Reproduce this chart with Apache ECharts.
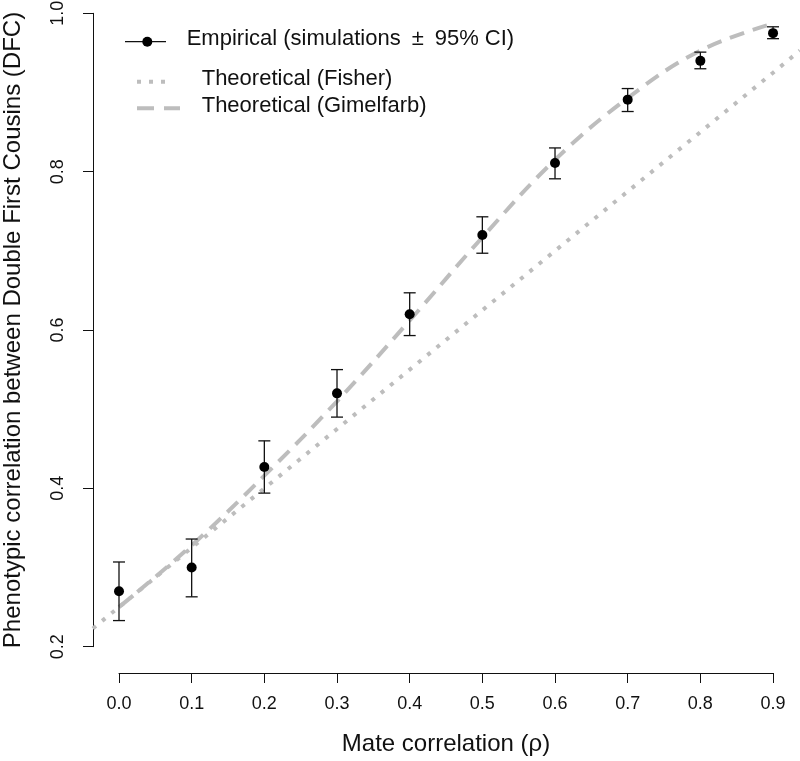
<!DOCTYPE html>
<html>
<head>
<meta charset="utf-8">
<script src="https://cdn.jsdelivr.net/npm/echarts@6/dist/echarts.min.js"></script>
<style>
  html, body { margin: 0; padding: 0; background: #fff; }
  #chart { width: 800px; height: 761px; }
</style>
</head>
<body>
<div id="chart"></div>
<script>
// mate correlation values for the simulations
const rho = [0.0, 0.1, 0.2, 0.3, 0.4, 0.5, 0.6, 0.7, 0.8, 0.9];
const empirical = [0.270, 0.300, 0.427, 0.520, 0.620, 0.720, 0.811, 0.891, 0.940, 0.975];
const ciLow = [0.233, 0.263, 0.394, 0.490, 0.593, 0.697, 0.791, 0.876, 0.930, 0.968];
const ciHigh = [0.307, 0.336, 0.460, 0.550, 0.647, 0.743, 0.830, 0.905, 0.951, 0.983];

// theoretical curves
const fisherX = [-0.036, 0.0, 0.1, 0.2, 0.3, 0.4, 0.5, 0.6, 0.7, 0.8, 0.9, 0.937];
const fisherY = [0.223, 0.250, 0.325, 0.400, 0.475, 0.550, 0.625, 0.700, 0.775, 0.850, 0.925, 0.953];
const gimelX = [0.0, 0.1, 0.2, 0.3, 0.4, 0.5, 0.6, 0.7, 0.8, 0.9];
const gimelY = [0.250, 0.328, 0.416, 0.510, 0.612, 0.717, 0.815, 0.893, 0.953, 0.987];

const xTicks = ["0.0", "0.1", "0.2", "0.3", "0.4", "0.5", "0.6", "0.7", "0.8", "0.9"];
const yTicks = ["0.2", "0.4", "0.6", "0.8", "1.0"];

const FONT = "'Liberation Sans', Arial, Helvetica, sans-serif";
const GREY = "#bdbdbd";
const INK = "#111";

const chart = echarts.init(document.getElementById("chart"), null, { renderer: "canvas" });

const zip = (xs, ys) => xs.map((x, i) => [x, ys[i]]);

const option = {
  backgroundColor: "#fff",
  animation: false,
  grid: [
    // plotting region (R extends the data range by 4%)
    { left: 93, top: 0, width: 707, height: 673, outerBoundsMode: "none" },
    // x axis, drawn only over the tick range
    { left: 119, top: 0, width: 654, height: 673, outerBoundsMode: "none" },
    // y axis, drawn only over the tick range
    { left: 93, top: 13.3, width: 707, height: 633.4, outerBoundsMode: "none" },
  ],
  xAxis: [
    { gridIndex: 0, type: "value", min: -0.03578, max: 0.93712, show: false },
    {
      gridIndex: 1, type: "value", min: 0, max: 0.9, interval: 0.1,
      axisLine: { show: true, lineStyle: { color: INK, width: 1 } },
      axisTick: { show: true, inside: false, length: 10, lineStyle: { color: INK, width: 1 } },
      axisLabel: {
        color: INK, fontSize: 18, fontFamily: FONT, margin: 22,
        formatter: (v) => xTicks[Math.round(v * 10)] ?? "",
      },
      splitLine: { show: false },
      name: "Mate correlation (\u03c1)",
      nameLocation: "middle",
      nameGap: 59,
      nameTextStyle: { color: INK, fontSize: 24, fontFamily: FONT },
    },
    { gridIndex: 2, type: "value", min: 0, max: 1, show: false },
  ],
  yAxis: [
    { gridIndex: 0, type: "value", min: 0.16678, max: 1.01685, show: false },
    { gridIndex: 1, type: "value", min: 0, max: 1, show: false },
    {
      gridIndex: 2, type: "value", min: 0.2, max: 1.0, interval: 0.2,
      axisLine: { show: true, lineStyle: { color: INK, width: 1 } },
      axisTick: { show: true, inside: false, length: 10, lineStyle: { color: INK, width: 1 } },
      axisLabel: {
        color: INK, fontSize: 18, fontFamily: FONT, margin: 26, rotate: 90,
        formatter: (v) => yTicks[Math.round((v - 0.2) / 0.2)] ?? "",
      },
      splitLine: { show: false },
      name: "Phenotypic correlation between Double First Cousins (DFC)",
      nameLocation: "middle",
      nameGap: 68,
      nameTextStyle: { color: INK, fontSize: 24, fontFamily: FONT },
    },
  ],
  series: [
    {
      name: "Theoretical (Fisher)",
      type: "line",
      xAxisIndex: 0, yAxisIndex: 0,
      data: zip(fisherX, fisherY),
      showSymbol: false,
      lineStyle: { color: GREY, width: 4, type: [4, 8], cap: "butt" },
      z: 2,
    },
    {
      name: "Theoretical (Gimelfarb)",
      type: "line",
      xAxisIndex: 0, yAxisIndex: 0,
      data: zip(gimelX, gimelY),
      smooth: 0.4,
      showSymbol: false,
      lineStyle: { color: GREY, width: 4, type: [15, 9], cap: "butt" },
      z: 2,
    },
    {
      name: "CI",
      type: "custom",
      xAxisIndex: 0, yAxisIndex: 0,
      data: rho.map((r, i) => [r, ciLow[i], ciHigh[i]]),
      renderItem: (params, api) => {
        const lo = api.coord([api.value(0), api.value(1)]);
        const hi = api.coord([api.value(0), api.value(2)]);
        const half = 6;
        const style = { stroke: INK, lineWidth: 1.3, fill: null };
        return {
          type: "group",
          children: [
            { type: "line", shape: { x1: lo[0], y1: lo[1], x2: hi[0], y2: hi[1] }, style },
            { type: "line", shape: { x1: lo[0] - half, y1: lo[1], x2: lo[0] + half, y2: lo[1] }, style },
            { type: "line", shape: { x1: hi[0] - half, y1: hi[1], x2: hi[0] + half, y2: hi[1] }, style },
          ],
        };
      },
      z: 3,
    },
    {
      name: "Empirical",
      type: "scatter",
      xAxisIndex: 0, yAxisIndex: 0,
      data: zip(rho, empirical),
      symbol: "circle",
      symbolSize: 10,
      itemStyle: { color: "#000", opacity: 1 },
      z: 4,
    },
  ],
  graphic: [
    // legend, laid out like the R legend box
    { type: "line", shape: { x1: 125, y1: 41.7, x2: 166, y2: 41.7 }, style: { stroke: INK, lineWidth: 1.3 } },
    { type: "circle", shape: { cx: 147.3, cy: 41.7, r: 5 }, style: { fill: "#000" } },
    {
      type: "text", left: 186.7, top: 28,
      style: { text: "Empirical (simulations\u2002\u00b1\u200295% CI)", fill: INK, font: `22px ${FONT}` },
    },
    { type: "line", shape: { x1: 137, y1: 81.7, x2: 172, y2: 81.7 }, style: { stroke: GREY, lineWidth: 4, lineDash: [4, 8] } },
    {
      type: "text", left: 201.7, top: 68,
      style: { text: "Theoretical (Fisher)", fill: INK, font: `22px ${FONT}` },
    },
    { type: "line", shape: { x1: 137, y1: 108.3, x2: 180, y2: 108.3 }, style: { stroke: GREY, lineWidth: 4, lineDash: [17, 10] } },
    {
      type: "text", left: 201.7, top: 95,
      style: { text: "Theoretical (Gimelfarb)", fill: INK, font: `22px ${FONT}` },
    },
  ],
};

chart.setOption(option);
window.addEventListener("resize", () => chart.resize());
</script>
</body>
</html>
